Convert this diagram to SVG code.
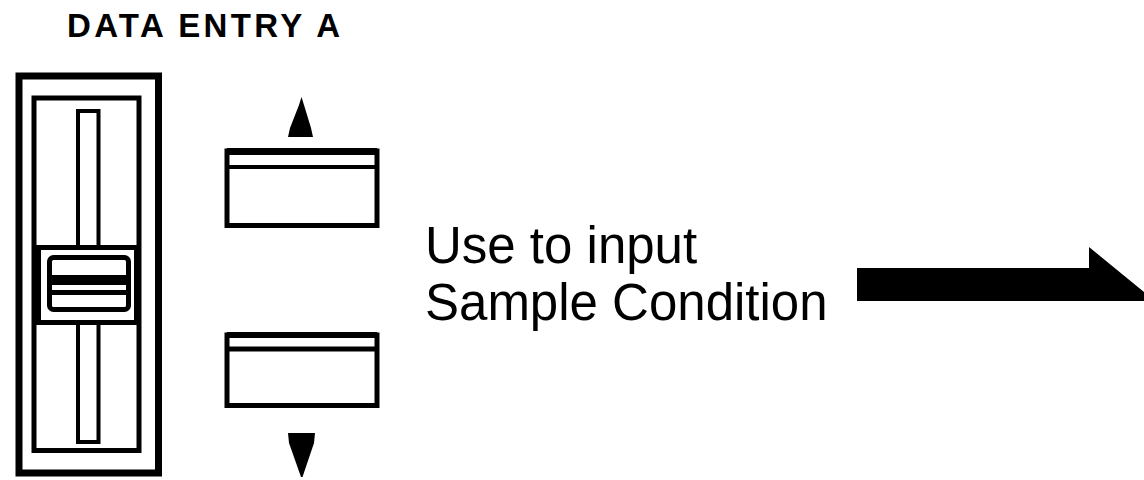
<svg xmlns="http://www.w3.org/2000/svg" width="1144" height="480" viewBox="0 0 1144 480">
  <style>
    .ln { fill: none; stroke: #000; stroke-linejoin: miter; }
    .blk { fill: #000; stroke: none; }
    .title { font-family: "Liberation Sans", Arial, sans-serif; font-weight: bold; font-size: 33px; fill: #000; }
    .lbl { font-family: "Liberation Sans", Arial, sans-serif; font-size: 51px; fill: #000; }
  </style>
  <rect x="0" y="0" width="1144" height="480" fill="#fff"/>

  <g id="title">
    <text class="title" x="67" y="37" textLength="273" lengthAdjust="spacing">DATA ENTRY A</text>
  </g>

  <g id="slider">
    <!-- outer frame -->
    <rect class="ln" x="19" y="76" width="139.5" height="397" stroke-width="7"/>
    <!-- inner frame -->
    <rect class="ln" x="34" y="98" width="105" height="352.5" stroke-width="5"/>
    <!-- slot upper / lower -->
    <path class="ln" d="M78 247 V111 H98.5 V247" stroke-width="4"/>
    <path class="ln" d="M78 323 V442 H98.5 V323" stroke-width="4"/>
    <!-- knob -->
    <line class="ln" x1="34" y1="247.5" x2="139" y2="247.5" stroke-width="5"/>
    <line class="ln" x1="34" y1="322.5" x2="139" y2="322.5" stroke-width="5"/>
    <rect class="ln" x="38.5" y="247.5" width="98" height="75" stroke-width="5"/>
    <rect class="ln" x="49.5" y="257.5" width="79" height="52" rx="4" stroke-width="5"/>
    <line class="ln" x1="49" y1="280" x2="129" y2="280" stroke-width="10"/>
    <line class="ln" x1="49" y1="292.5" x2="129" y2="292.5" stroke-width="5"/>
  </g>

  <g id="button-up">
    <polygon class="blk" points="301.5,97 304,105 311,128 313,137 288,137 290,128 299,105"/>
    <rect class="ln" x="227" y="151" width="150" height="74.5" stroke-width="5"/>
    <line class="ln" x1="227" y1="151.5" x2="377" y2="151.5" stroke-width="7"/>
    <line class="ln" x1="227" y1="167" x2="377" y2="167" stroke-width="4"/>
  </g>

  <g id="button-down">
    <rect class="ln" x="227" y="335" width="150" height="70.5" stroke-width="5"/>
    <line class="ln" x1="227" y1="335" x2="377" y2="335" stroke-width="6"/>
    <line class="ln" x1="227" y1="349" x2="377" y2="349" stroke-width="5"/>
    <polygon class="blk" points="288,433 315,433 314,443 302.5,477 301,477 289,443"/>
  </g>

  <g id="label">
    <text class="lbl" x="425" y="263">Use to input</text>
    <text class="lbl" x="425" y="320">Sample Condition</text>
  </g>

  <g id="connectors">
    <polygon class="blk" points="857,268 1089,268 1089,247 1144,292 1144,301 857,301"/>
  </g>
</svg>
